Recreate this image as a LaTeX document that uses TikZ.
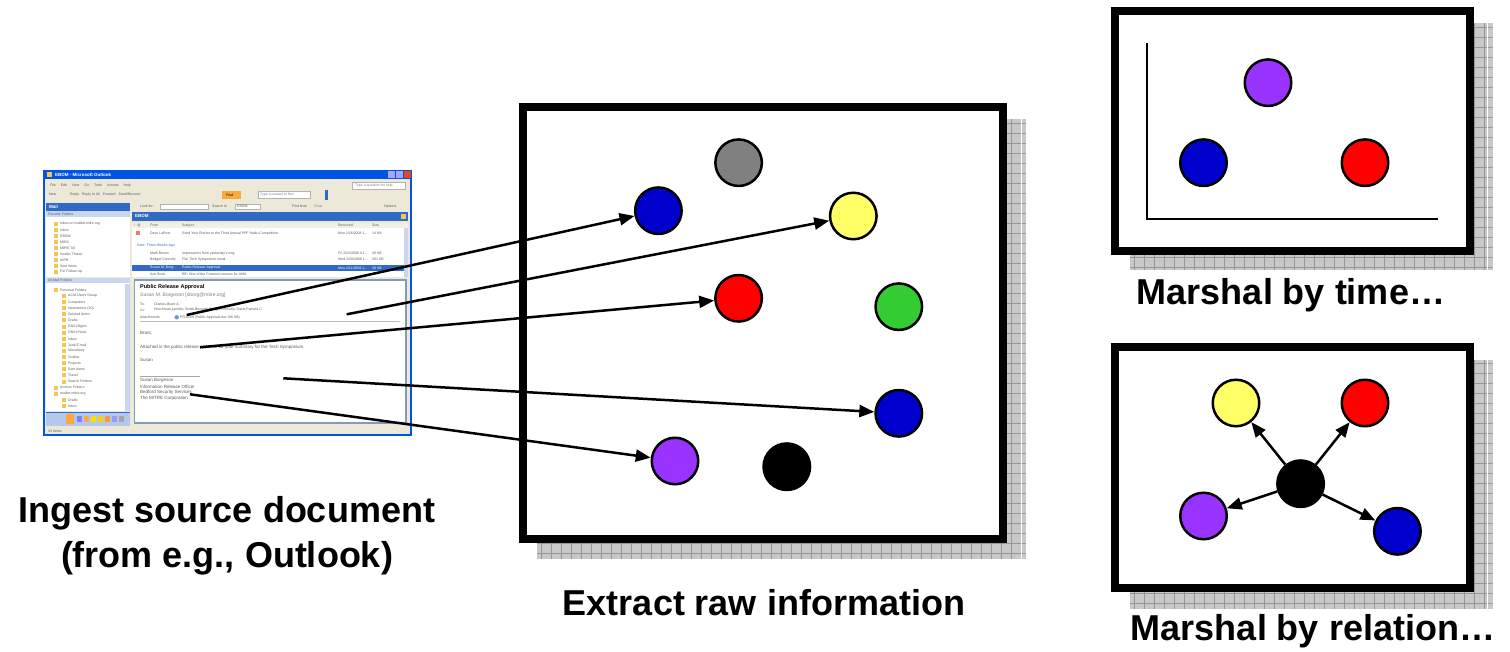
\documentclass[tikz,border=0pt]{standalone}
\usepackage{fontspec}
\setmainfont{Liberation Sans}
\usetikzlibrary{arrows.meta}
\definecolor{xpblue}{RGB}{0,84,227}
\definecolor{xpbeige}{RGB}{236,233,216}
\definecolor{xpnavy}{RGB}{49,106,197}
\definecolor{xphead}{RGB}{200,214,240}
\definecolor{xpnav}{RGB}{180,200,235}
\definecolor{xpsel}{RGB}{49,106,197}
\definecolor{xppane}{RGB}{127,157,185}
\definecolor{xpred}{RGB}{224,72,32}
\definecolor{xptext}{RGB}{90,90,90}
\definecolor{folderc}{RGB}{240,200,80}
\definecolor{findc}{RGB}{250,170,60}
\definecolor{dblue}{RGB}{0,0,204}
\definecolor{dgray}{RGB}{128,128,128}
\definecolor{dyellow}{RGB}{255,255,102}
\definecolor{dred}{RGB}{255,0,0}
\definecolor{dgreen}{RGB}{51,204,51}
\definecolor{dpurple}{RGB}{153,51,255}
\definecolor{shadowfill}{RGB}{200,200,200}
\definecolor{shadowline}{RGB}{150,150,150}
\newcommand\mkshadow[4]{%
  \fill[shadowfill] (#1,#2) rectangle (#3,#4);
  \begin{scope}
    \clip (#1,#2) rectangle (#3,#4);
    \foreach \dd in {4,14,...,504} {
      \draw[shadowline,line width=0.8pt] ({#1+\dd},#2) -- ({#1+\dd},#4);
      \draw[shadowline,line width=0.8pt] (#1,{#2+\dd}) -- (#3,{#2+\dd});
    }
  \end{scope}
  \draw[white,line width=0.9pt] ({#3-5},#2) -- ({#3-5},#4);
}
\begin{document}
\begin{tikzpicture}[x=1pt,y=-1pt,
  tiny/.style={font=\fontsize{3.5}{4}\selectfont, inner sep=0, anchor=west, text=xptext},
  tinyw/.style={font=\bfseries\fontsize{4.5}{5}\selectfont, inner sep=0, anchor=west, text=white},
  mailtxt/.style={font=\fontsize{4.5}{5}\selectfont, inner sep=0, anchor=west, text=xptext},
  lbl/.style={font=\bfseries\fontsize{36}{45}\selectfont, inner sep=0, anchor=base},
  panel/.style={draw=black, line width=8pt, fill=white},
  dot/.style={circle, draw=black, line width=2.5pt, minimum size=46.5pt, inner sep=0},
  link/.style={line width=2.5pt, -{Triangle[length=15pt,width=12pt]}},
  axisline/.style={line width=1.8pt},
  fold/.style={fill=folderc}]
\useasboundingbox (0,0) rectangle (1510,652);
\fill[white] (0,0) rectangle (1510,652);

% ---------------- Outlook screenshot ----------------
\fill[xpblue] (43,170) rectangle (412,436);
\fill[xpbeige] (45,179.5) rectangle (410,434);
\fill[folderc] (46.5,172) rectangle (51.5,177.5);
\node[tinyw] (ttl) at (55,174.8) {EBOM - Microsoft Outlook};
\fill[blue!35] (388,171.5) rectangle (395,178);
\fill[blue!35] (396,171.5) rectangle (403,178);
\fill[xpred] (403.8,171.5) rectangle (410.5,178);
\node[tiny] (menu) at (50,185.5) {File\hspace{5pt}Edit\hspace{5pt}View\hspace{5pt}Go\hspace{5pt}Tools\hspace{5pt}Actions\hspace{5pt}Help};
\filldraw[fill=white,draw=gray!60,line width=0.3pt] (352,182.5) rectangle (405,188.7);
\node[tiny,text=gray] (help) at (355,185.6) {Type a question for help};
\node[tiny] (tools) at (49,195) {New\hspace{14pt}Reply\hspace{3pt}Reply to All\hspace{3pt}Forward\hspace{3pt}Send/Receive};
\fill[findc] (222,191) rectangle (241,199);
\node[tiny,text=black] (find) at (226,195) {Find};
\filldraw[fill=white,draw=gray!60,line width=0.3pt] (258,191.5) rectangle (310,198.5);
\node[tiny,text=gray] (contact) at (260,195) {Type a contact to find};
\fill[xpnavy] (325,190) rectangle (328,200);

% left pane
\fill[xpnavy] (46,202.7) rectangle (130,210.7);
\node[tinyw] (mail) at (49,206.7) {Mail};
\fill[xphead] (46,211.5) rectangle (130,217.3);
\node[tiny] (favh) at (48,214.4) {Favorite Folders};
\fill[white] (46,217.3) rectangle (130,277.5);
\foreach \nm [count=\i] in {Inbox on mailbrt.mitre.org, Inbox, EBOM, MIRS, MIPIE Tel, Insider Threat, IAPR, Sent Items, For Follow Up}{
  \fill[fold] (54,{224+(\i-1)*6-2}) rectangle (58,{224+(\i-1)*6+2});
  \node[tiny] (fav\i) at (60,{224+(\i-1)*6}) {\nm};
}
\fill[xphead] (46,277.7) rectangle (130,283.3);
\node[tiny] (allh) at (48,280.5) {All Mail Folders};
\fill[white] (46,283.3) rectangle (130,411);
\fill[xphead] (125,284) rectangle (130,411);
\foreach \nm/\ind [count=\i] in {Personal Folders/0, ACM-Users Group/1, Computers/1, Newsletters (20)/1, Deleted Items/1, Drafts/1, GNSI Mgmt/1, GNSI Plans/1, Inbox/1, Junk E-mail/1, Miscellany/1, Outbox/1, Projects/1, Sent Items/1, Travel/1, Search Folders/1, Archive Folders/0, mailbrt.mitre.org/0, Drafts/1, Inbox/1}{
  \fill[fold] ({54+\ind*8},{290+(\i-1)*6.1-2}) rectangle ({58+\ind*8},{290+(\i-1)*6.1+2});
  \node[tiny] (tree\i) at ({60+\ind*8},{290+(\i-1)*6.1}) {\nm};
}
\fill[xpnav] (46,412.5) rectangle (130,426);
\draw[xpnavy,line width=0.8pt] (46,412.5) -- (130,412.5);
\fill[findc] (66,414) rectangle (74,424);
\foreach \xx/\cc in {77/blue!50, 84/orange!70, 91/yellow!80!orange, 98/yellow!70!orange, 105/orange!80, 112/blue!40, 119/gray!70}{
  \fill[\cc] (\xx,416) rectangle ({\xx+5},422);
}
\node[tiny] (status) at (48,431) {33 Items};

% right side
\node[tiny] (lookfor) at (140,206.5) {Look for:};
\filldraw[fill=white,draw=gray!60,line width=0.3pt] (160,203.8) rectangle (208,209.2);
\node[tiny] (searchin) at (212,206.5) {Search In};
\filldraw[fill=white,draw=gray!60,line width=0.3pt] (235,203.8) rectangle (260,209.2);
\node[tiny] (srch) at (237,206.5) {EBOM};
\node[tiny] (findnow) at (292,206.5) {Find Now};
\node[tiny,text=gray] (clear) at (314,206.5) {Clear};
\node[tiny] (options) at (384,206.5) {Options};
\fill[xpnavy] (132,212) rectangle (408,220.7);
\node[tinyw] (ebom) at (135,216.4) {EBOM};
\fill[folderc] (401,214) rectangle (406,219);
\fill[xpbeige!70!white] (132,222.7) rectangle (408,228.3);
\node[tiny] (hicons) at (134,225.5) {! \,@};
\node[tiny] (hfrom) at (150,225.5) {From};
\node[tiny] (hsubj) at (182,225.5) {Subject};
\node[tiny] (hrec) at (338,225.5) {Received};
\node[tiny] (hsize) at (372,225.5) {Size};
\fill[white] (132,228.3) rectangle (404,277);
\fill[xphead] (404,228.3) rectangle (408,277);
\fill[xpred!70] (136,231.5) rectangle (140,235.5);
\node[tiny] (r1a) at (150,233.3) {Dave LaPeer};
\node[tiny] (r1b) at (182,233.3) {Send Your Entries to the Third Annual PPF Haiku Competition};
\node[tiny] (r1c) at (338,233.3) {Mon 2/26/2008 1...};
\node[tiny] (r1d) at (372,233.3) {14 KB};
\node[tiny,text=xpnavy] (grp) at (137,245.5) {Date: Three Weeks Ago};
\node[tiny] (r2a) at (150,253.5) {Mark Brown};
\node[tiny] (r2b) at (182,253.5) {Impressions from yesterday's mtg};
\node[tiny] (r2c) at (338,253.5) {Fri 2/22/2008 3:1...};
\node[tiny] (r2d) at (372,253.5) {30 KB};
\node[tiny] (r3a) at (150,259.5) {Bridget Connolly};
\node[tiny] (r3b) at (182,259.5) {FW: Tech Symposium email};
\node[tiny] (r3c) at (338,259.5) {Wed 2/20/2008 1...};
\node[tiny] (r3d) at (372,259.5) {201 KB};
\fill[xpsel] (132,265) rectangle (404,270.7);
\node[tiny,text=white] (r4a) at (150,267.9) {Susan M. Borg...};
\node[tiny,text=white] (r4b) at (182,267.9) {Public Release Approval};
\node[tiny,text=white] (r4c) at (338,267.9) {Mon 2/11/2008 1...};
\node[tiny,text=white] (r4d) at (372,267.9) {58 KB};
\node[tiny] (r5a) at (150,274) {Ann Book};
\node[tiny] (r5b) at (182,274) {RE: One of the Concord courses for AVM};

% reading pane
\filldraw[fill=white,draw=xppane,line width=1.8pt] (134.5,279.8) rectangle (406.2,422.8);
\node[font=\bfseries\fontsize{5.5}{6}\selectfont,inner sep=0,anchor=west] (subj) at (140,287.3) {Public Release Approval};
\node[font=\fontsize{5}{6}\selectfont,inner sep=0,anchor=west,text=gray] (sender) at (140,295.7) {Susan M. Borgeson [sborg@mitre.org]};
\node[tiny] (to) at (140,304) {To:};
\node[tiny] (tov) at (154,304) {Clarkes,Brant A.};
\node[tiny] (cc) at (140,310) {Cc:};
\node[tiny] (ccv) at (154,310) {Hirschman,Lynette; Smith,Bennett; Bridget Connolly; Davis,Pamela C};
\node[tiny] (att) at (140,317.3) {Attachments:};
\fill[xpnavy!70] (176.7,317.3) circle (2.2);
\node[tiny] (attv) at (180,317.3) {PR-0229 (Public Approval.doc (56 KB)};
\draw[gray!50,line width=0.4pt] (140,321.7) -- (400,321.7);
\node[mailtxt] (greet) at (140,333.3) {Brant,};
\node[mailtxt] (body) at (140,347.3) {Attached is the public release approval for your summary for the Tech Symposium.};
\node[mailtxt] (sign) at (140,360) {Susan};
\draw[gray!70,line width=0.4pt] (140,376) -- (200,376);
\node[mailtxt] (sig1) at (140,380.5) {Susan Borgeson};
\node[mailtxt] (sig2) at (140,386.5) {Information Release Officer};
\node[mailtxt] (sig3) at (140,392.5) {Bedford Security Services};
\node[mailtxt] (sig4) at (140,398.5) {The MITRE Corporation};

% ---------------- shadows and panels ----------------
\mkshadow{537}{119}{1026}{559}
\mkshadow{1130}{23}{1492.5}{270}
\mkshadow{1130}{359.5}{1492.5}{608.5}
\draw[panel] (523,107) rectangle (1003,539);
\draw[panel] (1115,10.7) rectangle (1470,251);
\draw[panel] (1115,347.4) rectangle (1470,588.4);

% middle circles
\node[dot,fill=dblue]   (mblueA) at (658.4,210.7) {};
\node[dot,fill=dgray]   (mgray)  at (738.6,162.7) {};
\node[dot,fill=dyellow] (myel)   at (853.3,216) {};
\node[dot,fill=dred]    (mred)   at (738.6,298.3) {};
\node[dot,fill=dgreen]  (mgreen) at (898.8,306.7) {};
\node[dot,fill=dblue]   (mblueB) at (898.8,413.3) {};
\node[dot,fill=dpurple] (mpur)   at (675,461) {};
\node[dot,fill=black]   (mblk)   at (786.8,466.7) {};

% marshal by time
\draw[axisline] (1147,43) -- (1147,219) -- (1437.7,219);
\node[dot,fill=dpurple] (tpur)  at (1268,82.7) {};
\node[dot,fill=dblue]   (tblue) at (1203.5,162.7) {};
\node[dot,fill=dred]    (tred)  at (1365,162.7) {};

% marshal by relation
\node[dot,fill=dyellow] (ryel)  at (1236,403) {};
\node[dot,fill=dred]    (rred)  at (1365,403) {};
\node[dot,fill=black]   (rblk)  at (1300.6,483.7) {};
\node[dot,fill=dpurple] (rpur)  at (1203.5,516) {};
\node[dot,fill=dblue]   (rblue) at (1397.4,531.3) {};
\draw[link] (rblk) -- (ryel);
\draw[link] (rblk) -- (rred);
\draw[link] (rblk) -- (rpur);
\draw[link] (rblk) -- (rblue);

% extraction arrows
\coordinate (s1) at (186.7,315);
\coordinate (s2) at (346.7,314.3);
\coordinate (s3) at (200,347.3);
\coordinate (s4) at (283.3,378.3);
\coordinate (s5) at (190,394.3);
\draw[link] (s1) -- (mblueA);
\draw[link] (s2) -- (myel);
\draw[link] (s3) -- (mred);
\draw[link] (s4) -- (mblueB);
\draw[link] (s5) -- (mpur);

% labels
\node[lbl] (ingA) at (227,522) {Ingest source document};
\node[lbl] (ingB) at (227,567) {(from e.g., Outlook)};
\node[lbl] (extract) at (764,615) {Extract raw information};
\node[lbl] (mtime) at (1291,305) {Marshal by time…};
\node[lbl] (mrel) at (1313,640) {Marshal by relation…};
\end{tikzpicture}
\end{document}
